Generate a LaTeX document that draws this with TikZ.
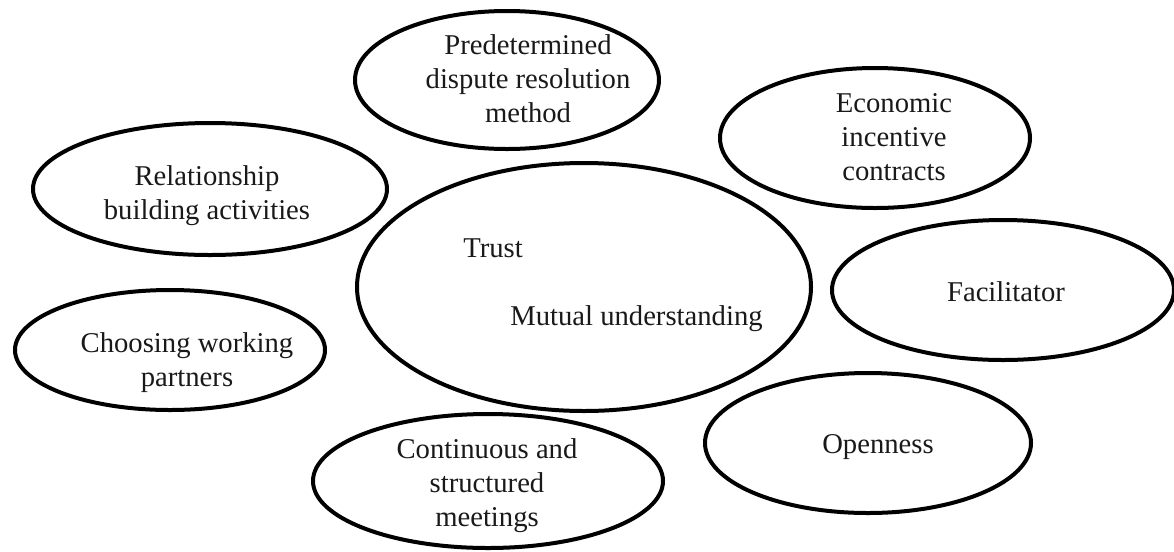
\documentclass[tikz,border=0pt]{standalone}
\usepackage{fontspec}
\setmainfont{Liberation Serif}
\usetikzlibrary{shapes.geometric}
\tikzset{
  oval/.style 2 args={ellipse, draw=black, line width=3pt, inner sep=0pt, outer sep=0pt,
    minimum width=#1*1.5pt, minimum height=#2*1.5pt},
  txt/.style={inner sep=0pt, align=center, text=black!90,
    font=\fontsize{21.5pt}{25.5pt}\selectfont}
}
\begin{document}
\begin{tikzpicture}[x=0.75pt,y=-0.75pt]
\useasboundingbox (0,0) rectangle (1174,551);
% ellipses
\node[oval={152}{69}]  (pre) at (507,80) {};
\node[oval={155}{70}]  (eco) at (875,138) {};
\node[oval={177}{66}]  (rel) at (210,189) {};
\node[oval={227}{124}] (ctr) at (584,287) {};
\node[oval={171}{70}]  (fac) at (1003,290) {};
\node[oval={155}{60}]  (cho) at (170,350) {};
\node[oval={163}{70}]  (ope) at (868,443) {};
\node[oval={175}{67}]  (con) at (488,481) {};
% texts
\node[txt] (tpre) at (528,79) {Predetermined\\dispute resolution\\method};
\node[txt] (teco) at (894,137) {Economic\\incentive\\contracts};
\node[txt] (trel) at (207,196) {Relationship\\building activities};
\node[txt, anchor=base west] (ttrust) at (463,257) {Trust};
\node[txt, anchor=base west] (tmut) at (510,325) {Mutual understanding};
\node[txt, anchor=base] (tfac) at (1006,301) {Facilitator};
\node[txt] (tcho) at (187,363) {Choosing working\\partners};
\node[txt, anchor=base] (tope) at (878,453) {Openness};
\node[txt] (tcon) at (487,486) {Continuous and\\structured\\meetings};
\end{tikzpicture}
\end{document}
